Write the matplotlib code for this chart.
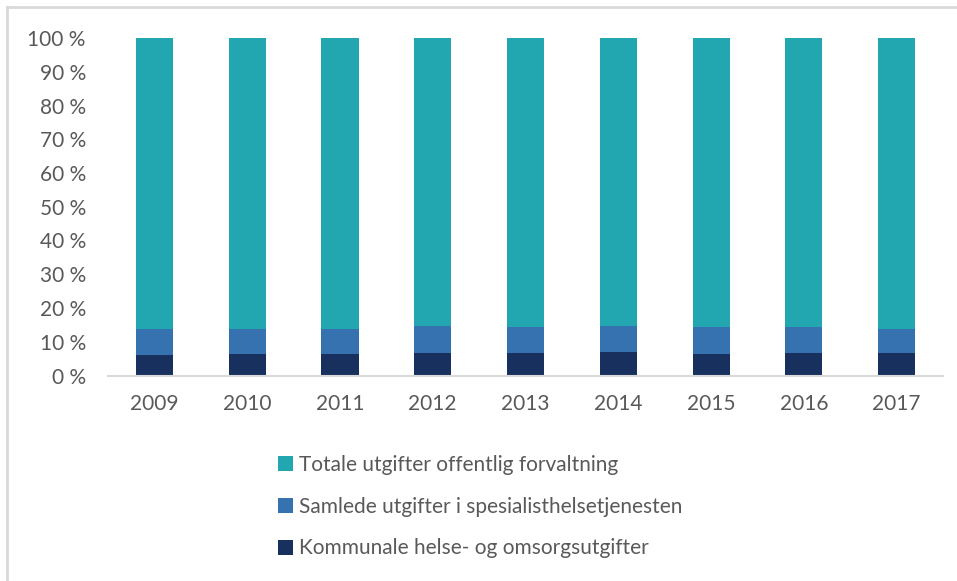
import numpy as np
import matplotlib.pyplot as plt
from matplotlib.lines import Line2D
from matplotlib.ticker import FuncFormatter

YEARS = ['2009', '2010', '2011', '2012', '2013', '2014', '2015', '2016', '2017']
# shares in percent of the stacked 100 % bar
kommunale = [6.1, 6.4, 6.4, 6.8, 6.8, 7.1, 6.4, 6.8, 6.8]
spesialist = [7.8, 7.5, 7.5, 8.0, 7.6, 7.7, 8.0, 7.6, 7.1]
totale = [86.1, 86.1, 86.1, 85.2, 85.6, 85.2, 85.6, 85.6, 86.1]

LABELS = ['Kommunale helse- og omsorgsutgifter',
          'Samlede utgifter i spesialisthelsetjenesten',
          'Totale utgifter offentlig forvaltning']
COLORS = ['#17305E', '#3672AF', '#22A6AF']
TXT = '#595959'

plt.rcParams['font.family'] = ['Lato', 'DejaVu Sans']
plt.rcParams['font.size'] = 15

fig = plt.figure(figsize=(9.57, 5.81), dpi=100)
ax = fig.add_axes([108/957, 205.5/581, 835/957, 337.5/581])

x = np.arange(len(YEARS))
bottom = np.zeros(len(YEARS))
handles = []
for vals, lab, col in zip([kommunale, spesialist, totale], LABELS, COLORS):
    b = ax.bar(x, vals, width=0.4, bottom=bottom, color=col, label=lab)
    handles.append(b)
    bottom += np.array(vals)

ax.set_xlim(-0.5, len(YEARS) - 0.5)
ax.set_ylim(0, 100)
ax.set_yticks(range(0, 101, 10))
ax.yaxis.set_major_formatter(FuncFormatter(lambda v, p: '%d %%' % v))
ax.set_xticks(x)
ax.set_xticklabels(YEARS)
ax.tick_params(axis='both', length=0, colors=TXT, labelsize=15)
ax.tick_params(axis='y', pad=16)
ax.tick_params(axis='x', pad=13)
for s in ['top', 'right', 'left']:
    ax.spines[s].set_visible(False)
ax.spines['bottom'].set_color('#d9d9d9')
ax.spines['bottom'].set_linewidth(1.5)

leg = fig.legend(handles[::-1], LABELS[::-1], loc='upper left',
                 bbox_to_anchor=(259/957, 1 - 436/581), frameon=False,
                 handlelength=0.75, handleheight=0.75, handletextpad=0.25,
                 labelspacing=1.05, fontsize=15)
for t in leg.get_texts():
    t.set_color(TXT)

# thin frame around the chart (top and left edges visible)
fig.add_artist(Line2D([7/957, 1], [1 - 7/581, 1 - 7/581], color='#d9d9d9', lw=2))
fig.add_artist(Line2D([7/957, 7/957], [0, 1 - 7/581], color='#d9d9d9', lw=2))

fig.savefig('out.png', dpi=100)
